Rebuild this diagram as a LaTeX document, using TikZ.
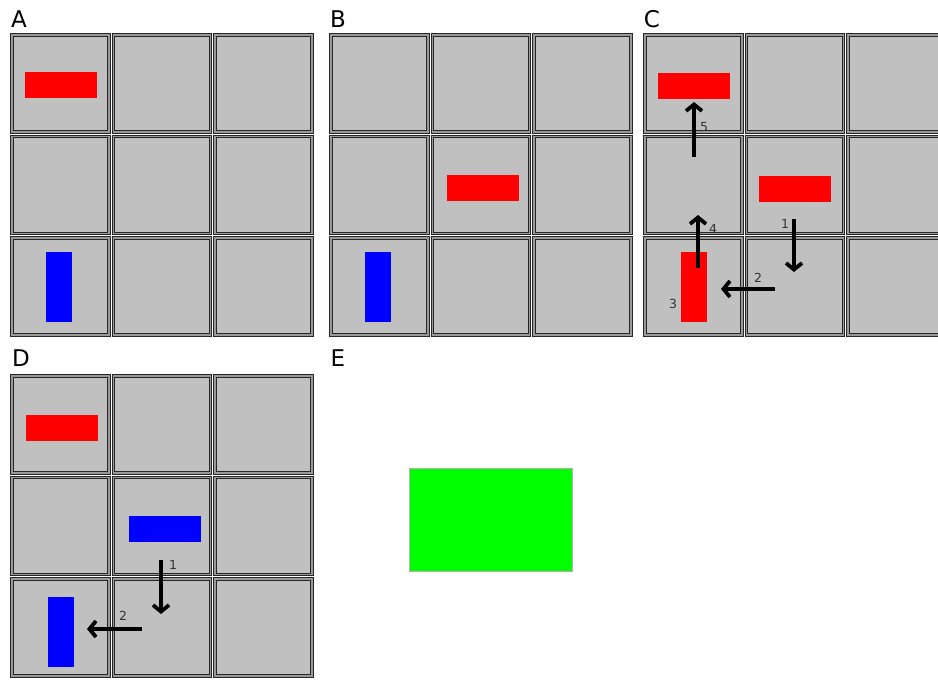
\documentclass[tikz,border=0pt]{standalone}
\usepackage{fontspec}
\setmainfont{DejaVu Sans}
\usetikzlibrary{arrows.meta,positioning}
\definecolor{cellgray}{RGB}{192,192,192}

\begin{document}
\begin{tikzpicture}[
                x=1pt, y=-1pt,
                >={Straight Barb[length=6.5pt,width=16pt]},
                every node/.style={inner sep=0pt},
                cell/.style={draw=black!85, double=black!40, double distance=1.4pt, line width=0.9pt, fill=cellgray, minimum size=97pt},
                hbar/.style={minimum width=72pt, minimum height=26pt},
                vbar/.style={minimum width=26pt, minimum height=70pt},
                panel/.style={font=\fontsize{23}{23}\selectfont},
                num/.style={font=\fontsize{12.5}{12.5}\selectfont, text=black!80},
                move/.style={->, line width=3.8pt}
            ]
            \useasboundingbox (0,0) rectangle (938,680);

            % draw the grids
            \foreach \p/\ox/\oy in {A/10/33, B/329/33, C/643/33, D/10/374}
                \foreach \r in {0,1,2}
                    \foreach \c in {0,1,2}
                        \node[cell] (\p\r\c) at (\ox+50.5+101.5*\c, \oy+50.5+101.5*\r) {};

            % panel letters
            \node[panel] (labA) at (19,19) {A};
            \node[panel] (labB) at (338,19) {B};
            \node[panel] (labC) at (652,19) {C};
            \node[panel] (labD) at (21,358) {D};
            \node[panel] (labE) at (338,358) {E};

            % the bars
            \node[hbar, fill=red] (redA) at ([yshift=-1pt]A00) {};
            \node[vbar, fill=blue] (blueA) at ([xshift=-1.5pt]A20) {};
            \node[hbar, fill=red] (redB) at ([xshift=1.5pt,yshift=-3pt]B11) {};
            \node[vbar, fill=blue] (blueB) at ([xshift=-1.5pt]B20) {};
            \node[hbar, fill=red] (redCa) at ([yshift=-2.5pt]C00) {};
            \node[hbar, fill=red] (redCb) at ([yshift=-3.5pt]C11) {};
            \node[vbar, fill=red] (redCc) at ([yshift=-0.5pt]C20) {};
            \node[hbar, fill=red] (redD) at ([xshift=1pt,yshift=-3.5pt]D00) {};
            \node[hbar, fill=blue] (blueDa) at ([xshift=3pt,yshift=-2.5pt]D11) {};
            \node[vbar, fill=blue] (blueDb) at ([yshift=-4pt]D20) {};

            % moves in C
            \coordinate (c1a) at (794,219);  \coordinate (c1b) at (794,272);
            \coordinate (c2a) at (775,289);  \coordinate (c2b) at (721,289);
            \coordinate (c4a) at (698,268);  \coordinate (c4b) at (698,215);
            \coordinate (c5a) at (694,157);  \coordinate (c5b) at (694,102);
            \draw[move] (c1a) -- (c1b);
            \draw[move] (c2a) -- (c2b);
            \draw[move] (c4a) -- (c4b);
            \draw[move] (c5a) -- (c5b);
            \node[num] (nc1) at (785,224) {1};
            \node[num] (nc2) at (758,278) {2};
            \node[num] (nc3) at (673,304) {3};
            \node[num] (nc4) at (713,229) {4};
            \node[num] (nc5) at (704,127) {5};

            % moves in D
            \coordinate (d1a) at (161,560);  \coordinate (d1b) at (161,614);
            \coordinate (d2a) at (142,629);  \coordinate (d2b) at (87,629);
            \draw[move] (d1a) -- (d1b);
            \draw[move] (d2a) -- (d2b);
            \node[num] (nd1) at (173,565) {1};
            \node[num] (nd2) at (123,616) {2};

            % goal
            \node[draw=black!30, fill=green, minimum width=163pt, minimum height=103pt] (goal) at (490.5,519.5) {};
        \end{tikzpicture}
\end{document}
